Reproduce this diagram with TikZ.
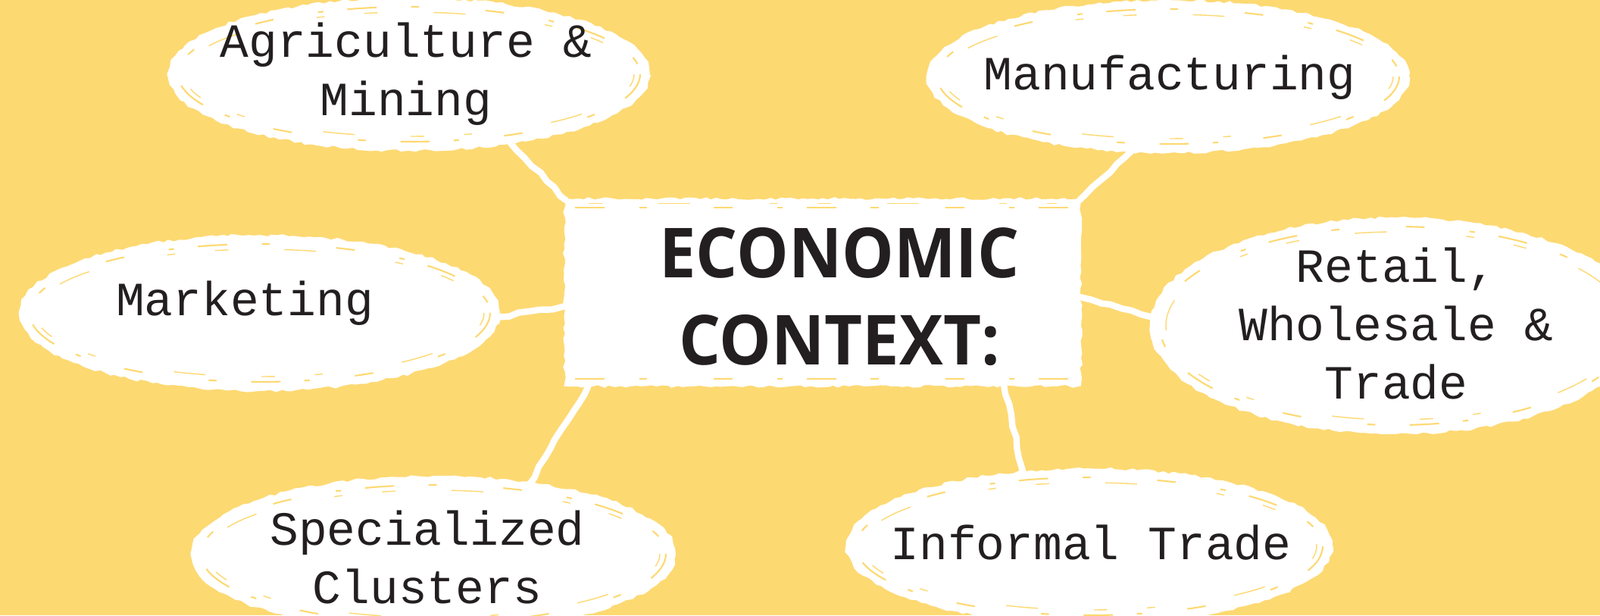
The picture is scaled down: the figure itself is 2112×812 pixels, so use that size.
\documentclass[tikz,border=0pt]{standalone}
\usepackage{fontspec}
\setmainfont{Liberation Mono}
\newfontfamily\headfont{Open Sans}
\usetikzlibrary{shapes.geometric,decorations.pathmorphing}

\definecolor{paper}{RGB}{253,217,114}
\definecolor{ink}{RGB}{35,31,32}

\tikzset{
	rough/.style={decorate, decoration={random steps, segment length=2pt, amplitude=0.5pt}},
	bubble/.style={ellipse, fill=white, inner sep=0pt,
		postaction={draw=white, line width=1.6pt, rough}},
	block/.style={rectangle, fill=white, inner sep=0pt,
		postaction={draw=white, line width=1.6pt, rough}},
	streak/.style={draw=paper, line width=0.6pt, dash pattern=on 11pt off 13pt on 3pt off 25pt on 7pt off 17pt on 2pt off 9pt},
	fine streak/.style={draw=paper, line width=0.4pt, dash pattern=on 5pt off 21pt on 12pt off 30pt on 3pt off 15pt},
	tag/.style={font=\fontsize{17.9}{21.9}\selectfont, text=ink, align=center, inner sep=0pt},
	head/.style={font=\headfont\bfseries\fontsize{25.9}{32.7}\selectfont, text=ink, align=center, inner sep=0pt},
	link/.style={draw=white, line width=2.4pt, line cap=round, decorate,
		decoration={random steps, segment length=4pt, amplitude=0.5pt}}
}

\begin{document}
\begin{tikzpicture}[x=0.01cm, y=-0.01cm]
	\useasboundingbox (0,0) rectangle (2112,812);
	\fill[paper] (0,0) rectangle (2112,812);

	\node[block, minimum width=6.76cm, minimum height=2.42cm] (box) at (1086,386) {};
	\draw[streak] ([shift={(12,10)}]box.north west) -- ([shift={(-12,10)}]box.north east);
	\draw[fine streak] ([shift={(30,4)}]box.north west) -- ([shift={(-30,4)}]box.north east);
	\draw[streak] ([shift={(12,-8)}]box.south west) -- ([shift={(-12,-8)}]box.south east);
	\node[head] (title) at (1108,392) {\scalebox{0.95}[1]{ECONOMIC}\\\scalebox{0.95}[1]{CONTEXT:}};

	\node[bubble, minimum width=6.30cm, minimum height=1.96cm] (agri) at (540,98) {};
	\node[bubble, minimum width=6.30cm, minimum height=1.96cm] (manu) at (1542,101) {};
	\node[bubble, minimum width=6.28cm, minimum height=2.00cm] (mark) at (343,413) {};
	\node[bubble, minimum width=6.44cm, minimum height=2.80cm] (retail) at (1843,430) {};
	\node[bubble, minimum width=6.34cm, minimum height=2.00cm] (spec) at (572,731) {};
	\node[bubble, minimum width=6.36cm, minimum height=2.00cm] (info) at (1438,721) {};

	\draw[streak] (agri.center) ellipse [x radius=305, y radius=89];
	\draw[streak] (manu.center) ellipse [x radius=305, y radius=89];
	\draw[streak] (mark.center) ellipse [x radius=304, y radius=91];
	\draw[streak] (retail.center) ellipse [x radius=312, y radius=131];
	\draw[streak] (spec.center) ellipse [x radius=307, y radius=91];
	\draw[streak] (info.center) ellipse [x radius=308, y radius=91];
	\draw[fine streak] (agri.center) ellipse [x radius=297, y radius=82];
	\draw[fine streak] (manu.center) ellipse [x radius=297, y radius=82];
	\draw[fine streak] (mark.center) ellipse [x radius=296, y radius=84];
	\draw[fine streak] (retail.center) ellipse [x radius=304, y radius=124];
	\draw[fine streak] (spec.center) ellipse [x radius=299, y radius=84];
	\draw[fine streak] (info.center) ellipse [x radius=300, y radius=84];

	\node[tag] (agri-t) at (536,98) {Agriculture \&\\Mining};
	\node[tag] (manu-t) at (1544,102) {Manufacturing};
	\node[tag] (mark-t) at (323,400) {Marketing};
	\node[tag] (retail-t) at (1843,427) {Retail,\\Wholesale \&\\Trade};
	\node[tag] (spec-t) at (564,735) {Specialized\\Clusters};
	\node[tag] (info-t) at (1440,716) {Informal Trade};

	\draw[link] (agri.-34) -- (box.north west);
	\draw[link] (manu.-116) -- (box.north east);
	\draw[link] (mark.-1) -- (box.183);
	\draw[link] (retail.178) -- (box.-1);
	\draw[link] ([shift={(30,0)}]box.south west) -- (spec.36);
	\draw[link] (box.-27) -- (info.132);
\end{tikzpicture}
\end{document}
